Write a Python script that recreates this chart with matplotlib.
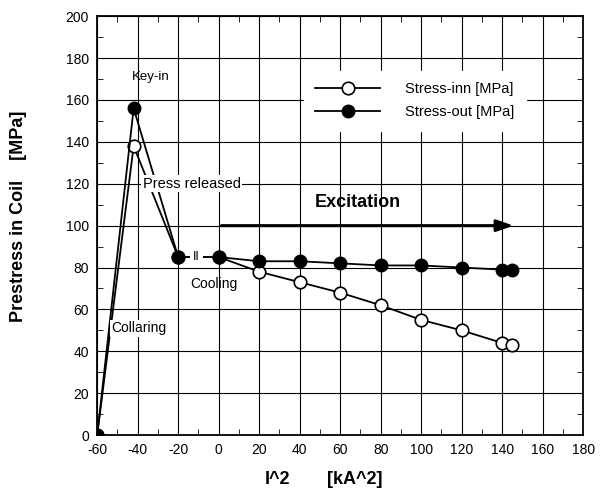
import numpy as np
import matplotlib
matplotlib.use('Agg')
import matplotlib.pyplot as plt
from matplotlib.ticker import MultipleLocator

plt.rcParams['font.family'] = ['Liberation Sans', 'DejaVu Sans']
plt.rcParams['axes.unicode_minus'] = False

# data
i2 = [-60, -42, -20, 0, 20, 40, 60, 80, 100, 120, 140, 145]
stress_inn = [0, 138, 85, 85, 78, 73, 68, 62, 55, 50, 44, 43]
stress_out = [0, 156, 85, 85, 83, 83, 82, 81, 81, 80, 79, 79]
x_ticks = list(range(-60, 181, 20))
y_ticks = list(range(0, 201, 20))

fig = plt.figure(figsize=(6, 4.9), dpi=100)
ax = fig.add_axes([0.162, 0.112, 0.810, 0.855])

# curves
ax.plot(i2, stress_inn, '-o', color='k', lw=1.3, ms=9,
        mfc='white', mec='k', mew=1.2, label='Stress-inn [MPa]', zorder=3)
ax.plot(i2, stress_out, '-o', color='k', lw=1.3, ms=9,
        mfc='k', mec='k', label='Stress-out [MPa]', zorder=4)

# axes setup
ax.set_xlim(-60, 180)
ax.set_ylim(0, 200)
ax.set_xticks(x_ticks)
ax.set_yticks(y_ticks)
ax.xaxis.set_minor_locator(MultipleLocator(10))
ax.yaxis.set_minor_locator(MultipleLocator(10))
ax.tick_params(which='both', direction='in', top=True, right=True)
ax.tick_params(which='major', length=0, labelsize=10, pad=6)
ax.tick_params(which='minor', length=4)
ax.grid(True, which='major', color='k', lw=0.8)
for s in ax.spines.values():
    s.set_linewidth(1.3)

# axis titles
fig.text(265 / 600, 1 - 479 / 490, 'I^2', fontsize=13, fontweight='bold',
         ha='left', va='center')
fig.text(327 / 600, 1 - 479 / 490, '[kA^2]', fontsize=13, fontweight='bold',
         ha='left', va='center')
fig.text(19 / 600, 1 - 216 / 490, 'Prestress in Coil    [MPa]', fontsize=13,
         fontweight='bold', rotation=90, ha='center', va='center')

# annotations
wb = dict(facecolor='white', edgecolor='none', pad=1)
ax.text(-43, 171, 'Key-in', fontsize=9.5, va='center', zorder=6)
ax.text(-37.5, 120, 'Press released', fontsize=10.5, va='center', bbox=wb,
        zorder=6)
ax.text(-53, 51, 'Collaring', fontsize=10, va='center', bbox=wb, zorder=6)
ax.text(-14, 72, 'Cooling', fontsize=10, va='center', zorder=6)
ax.text(-11, 85, 'II', fontsize=9, ha='center', va='center',
        bbox=dict(facecolor='white', edgecolor='none', pad=2), zorder=5)
ax.text(47.5, 111, 'Excitation', fontsize=13, fontweight='bold', va='center',
        zorder=6)
ax.annotate('', xy=(147, 100), xytext=(0, 100),
            arrowprops=dict(arrowstyle='-|>,head_length=1.0,head_width=0.35',
                            color='k', lw=2.2), zorder=6)

leg = ax.legend(loc='upper left', bbox_to_anchor=(0.425, 0.87),
                fontsize=10.5, frameon=True, handlelength=4.45,
                handletextpad=1.7, labelspacing=0.6, borderpad=0.8,
                borderaxespad=0, fancybox=False)
leg.get_frame().set_edgecolor('white')
leg.get_frame().set_facecolor('white')
leg.get_frame().set_alpha(1)

fig.savefig('out.png', dpi=100)
